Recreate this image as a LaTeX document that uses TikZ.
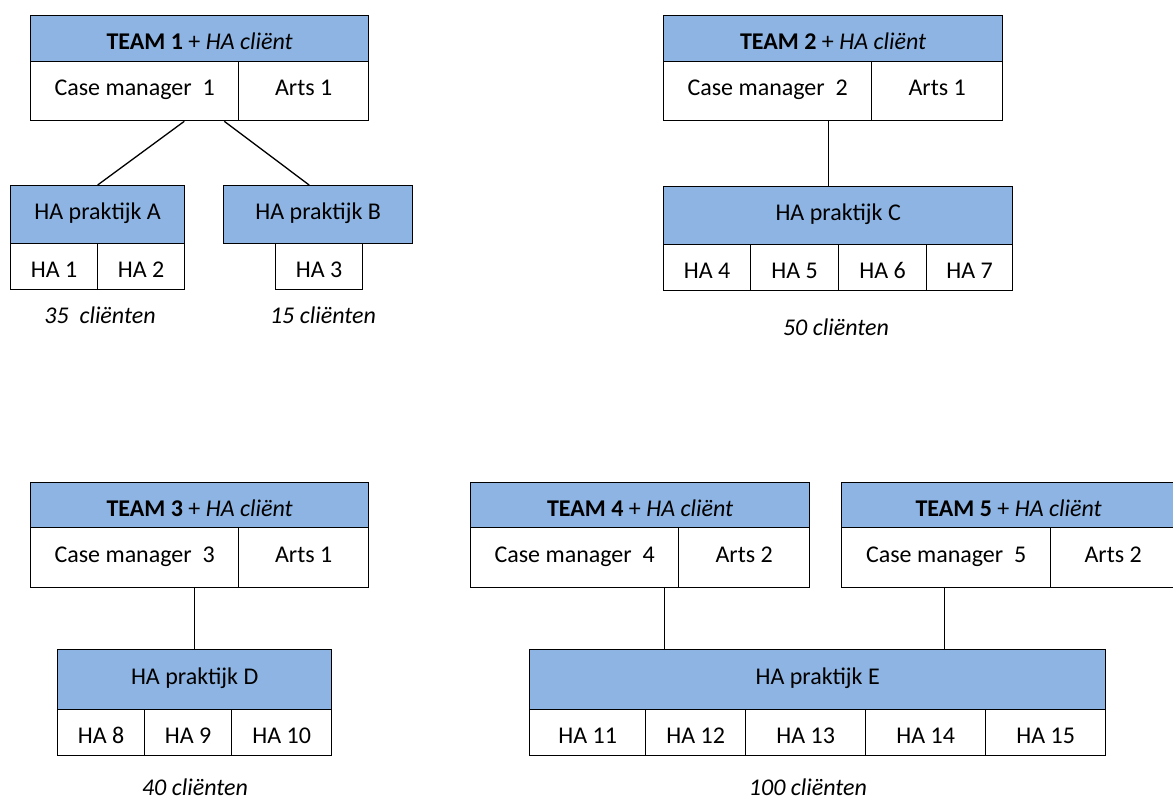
\documentclass[tikz,border=0pt]{standalone}
\usepackage{fontspec}
\setmainfont{Carlito}
\usepackage{tikz}
\usetikzlibrary{positioning,calc}
\definecolor{hablauw}{RGB}{141,180,226}
\tikzset{
  box/.style={draw, line width=1.3pt, inner sep=0pt, anchor=north west, font=\fontsize{24}{29}\selectfont},
  laag/.style={minimum height=46pt, text height=22pt, text depth=0pt},
  hoog/.style={minimum height=#1, text height=18pt, text depth=9pt},
  kop/.style={box, fill=hablauw},
  cel/.style={box, fill=white},
  noot/.style={anchor=base, inner sep=1pt, font=\fontsize{24}{29}\selectfont\itshape},
  lijn/.style={line width=1.3pt},
}

\begin{document}
\begin{tikzpicture}[x=1pt,y=-1pt]
\useasboundingbox (0,0) rectangle (1173,801);
% team 1
\node[kop, laag, minimum width=338pt] (t1) at (30,15) {\textbf{TEAM 1} + \textit{HA cliënt}};
\node[cel, hoog=59pt, minimum width=208pt] (cm1) at (30,61) {Case manager\ \ 1};
\node[cel, hoog=59pt, minimum width=130pt] (arts1) at (238,61) {Arts 1};
\node[kop, hoog=58pt, minimum width=174pt] (hapA) at (10,185) {HA praktijk A};
\node[cel, laag, minimum width=87pt] (ha1) at (10,243) {HA 1};
\node[cel, laag, minimum width=87pt] (ha2) at (97,243) {HA 2};
\node[kop, hoog=58pt, minimum width=189pt] (hapB) at (223,185) {HA praktijk B};
\node[cel, laag, minimum width=87pt] (ha3) at (275,243) {HA 3};
\node[noot] (nA) at (100,323) {35\ \ cliënten};
\node[noot] (nB) at (323,323) {15 cliënten};
\draw[lijn] ([xshift=-55pt]cm1.south east) -- (hapA.north);
\draw[lijn] ([xshift=-15pt]cm1.south east) -- ([xshift=-9pt]hapB.north);
% team 2
\node[kop, laag, minimum width=339pt] (t2) at (663,15) {\textbf{TEAM 2} + \textit{HA cliënt}};
\node[cel, hoog=59pt, minimum width=208pt] (cm2) at (663,61) {Case manager\ \ 2};
\node[cel, hoog=59pt, minimum width=131pt] (arts2) at (871,61) {Arts 1};
\node[kop, hoog=58pt, minimum width=349pt] (hapC) at (663,186) {HA praktijk C};
\node[cel, laag, minimum width=87pt] (ha4) at (663,244) {HA 4};
\node[cel, laag, minimum width=88pt] (ha5) at (750,244) {HA 5};
\node[cel, laag, minimum width=88pt] (ha6) at (838,244) {HA 6};
\node[cel, laag, minimum width=86pt] (ha7) at (926,244) {HA 7};
\node[noot] (nC) at (836,335) {50 cliënten};
\draw[lijn] ([xshift=-44pt]cm2.south east) coordinate (l2) -- (l2 |- hapC.north);
% team 3
\node[kop, laag, minimum width=338pt] (t3) at (30,482) {\textbf{TEAM 3} + \textit{HA cliënt}};
\node[cel, hoog=60pt, minimum width=208pt] (cm3) at (30,527) {Case manager\ \ 3};
\node[cel, hoog=60pt, minimum width=130pt] (arts3) at (238,527) {Arts 1};
\node[kop, hoog=60pt, minimum width=274pt] (hapD) at (57,649) {HA praktijk D};
\node[cel, laag, minimum width=87pt] (ha8) at (57,709) {HA 8};
\node[cel, laag, minimum width=87pt] (ha9) at (144,709) {HA 9};
\node[cel, laag, minimum width=100pt] (ha10) at (231,709) {HA 10};
\node[noot] (nD) at (195,795) {40 cliënten};
\draw[lijn] (hapD.north |- cm3.south) -- (hapD.north);
% team 4 en 5
\node[kop, laag, minimum width=339pt] (t4) at (470,482) {\textbf{TEAM 4} + \textit{HA cliënt}};
\node[cel, hoog=60pt, minimum width=208pt] (cm4) at (470,527) {Case manager\ \ 4};
\node[cel, hoog=60pt, minimum width=131pt] (arts4) at (678,527) {Arts 2};
\node[kop, laag, minimum width=334pt] (t5) at (841,482) {\textbf{TEAM 5} + \textit{HA cliënt}};
\node[cel, hoog=60pt, minimum width=209pt] (cm5) at (841,527) {Case manager\ \ 5};
\node[cel, hoog=60pt, minimum width=125pt] (arts5) at (1050,527) {Arts 2};
\node[kop, hoog=60pt, minimum width=576pt] (hapE) at (529,649) {HA praktijk E};
\node[cel, laag, minimum width=116pt] (ha11) at (529,709) {HA 11};
\node[cel, laag, minimum width=100pt] (ha12) at (645,709) {HA 12};
\node[cel, laag, minimum width=120pt] (ha13) at (745,709) {HA 13};
\node[cel, laag, minimum width=120pt] (ha14) at (865,709) {HA 14};
\node[cel, laag, minimum width=120pt] (ha15) at (985,709) {HA 15};
\node[noot] (nE) at (808,795) {100 cliënten};
\draw[lijn] ([xshift=-15pt]cm4.south east) coordinate (l4) -- (l4 |- hapE.north);
\draw[lijn] ([xshift=-2pt]cm5.south) coordinate (l5) -- (l5 |- hapE.north);
\end{tikzpicture}
\end{document}
